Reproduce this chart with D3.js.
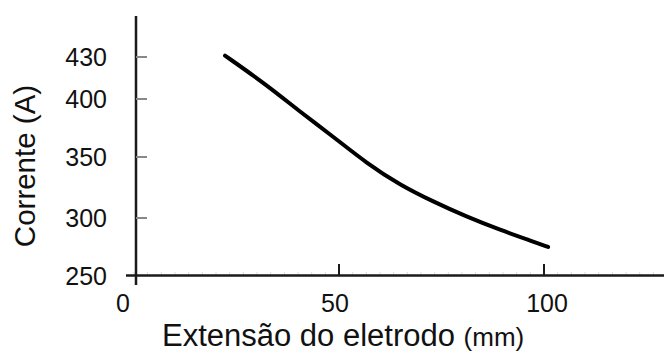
<!DOCTYPE html>
<html><head><meta charset="utf-8">
<script src="https://cdn.jsdelivr.net/npm/d3@7"></script>
<style>body{margin:0;background:#fff}svg{display:block}text{font-family:"Liberation Sans",Arial,sans-serif;fill:#111}</style>
</head><body>
<svg id="c" width="664" height="353"></svg>
<script>
// Data
const extensao = [22.2, 32.4, 40.5, 48.6, 56.8, 64.9, 73.0, 81.1, 89.3, 97.4, 101];
const corrente = [431, 410, 389, 367.5, 344.8, 327, 313.4, 301, 289.6, 279.4, 274.8];
const xTicks = [0, 50, 100];
const yTicks = [250, 300, 350, 400, 430];
const yTitle = "Corrente (A)";
const xTitle = "Extensão do eletrodo";
const xUnit = "(mm)";

const svg = d3.select("#c");
const x = d3.scaleLinear().domain([0, 100]).range([134, 544]);
// the y axis in the picture is not evenly spaced; piecewise mapping of tick positions
const y = d3.scaleLinear().domain(yTicks).range([275.5, 218, 157, 99, 57]);

const axisX = 136;
// minor ticks along x axis
const minor = d3.range(0, 130, 50/15);
svg.append("g").selectAll("line").data(minor).join("line")
  .attr("x1", d => x(d)).attr("x2", d => x(d))
  .attr("y1", 272).attr("y2", 275).attr("stroke", "#ddd").attr("stroke-width", 1);

// x axis line
svg.append("line").attr("x1", 126).attr("x2", 664).attr("y1", 275.5).attr("y2", 275.5)
  .attr("stroke", "#1a1a1a").attr("stroke-width", 2.5);
// y axis line
svg.append("line").attr("x1", axisX).attr("x2", axisX).attr("y1", 16).attr("y2", 285)
  .attr("stroke", "#1a1a1a").attr("stroke-width", 2.5);

// x major ticks
svg.append("g").selectAll("line").data(xTicks.filter(d => d > 0)).join("line")
  .attr("x1", d => x(d)).attr("x2", d => x(d))
  .attr("y1", 264).attr("y2", 276).attr("stroke", "#1a1a1a").attr("stroke-width", 2);
// x tick labels
svg.append("g").selectAll("text").data(xTicks).join("text")
  .attr("x", d => x(d) + (d === 0 ? -11 : (d === 50 ? -4 : 3)))
  .attr("y", 312).attr("text-anchor", "middle").attr("font-size", 25)
  .text(d => d);

// y ticks
svg.append("g").selectAll("line").data(yTicks.filter(d => d > 250)).join("line")
  .attr("x1", axisX).attr("x2", 147).attr("y1", d => y(d)).attr("y2", d => y(d))
  .attr("stroke", "#888").attr("stroke-width", 2);
svg.append("g").selectAll("text").data(yTicks).join("text")
  .attr("x", 107).attr("y", d => y(d)).attr("dy", "0.36em")
  .attr("text-anchor", "end").attr("font-size", 25).text(d => d);

// titles
svg.append("text").attr("transform", "translate(35,166) rotate(-90)")
  .attr("text-anchor", "middle").attr("font-size", 29.5).text(yTitle);
const xt = svg.append("text").attr("x", 162).attr("y", 346).attr("font-size", 31);
xt.append("tspan").text(xTitle + " ");
xt.append("tspan").attr("font-size", 26).text(xUnit);

// curve
const pts = extensao.map((d, i) => [d, corrente[i]]);
svg.append("path").datum(pts)
  .attr("fill", "none").attr("stroke", "#000").attr("stroke-width", 4)
  .attr("stroke-linecap", "round")
  .attr("d", d3.line().x(d => x(d[0])).y(d => y(d[1])).curve(d3.curveBasis));
</script>
</body></html>
